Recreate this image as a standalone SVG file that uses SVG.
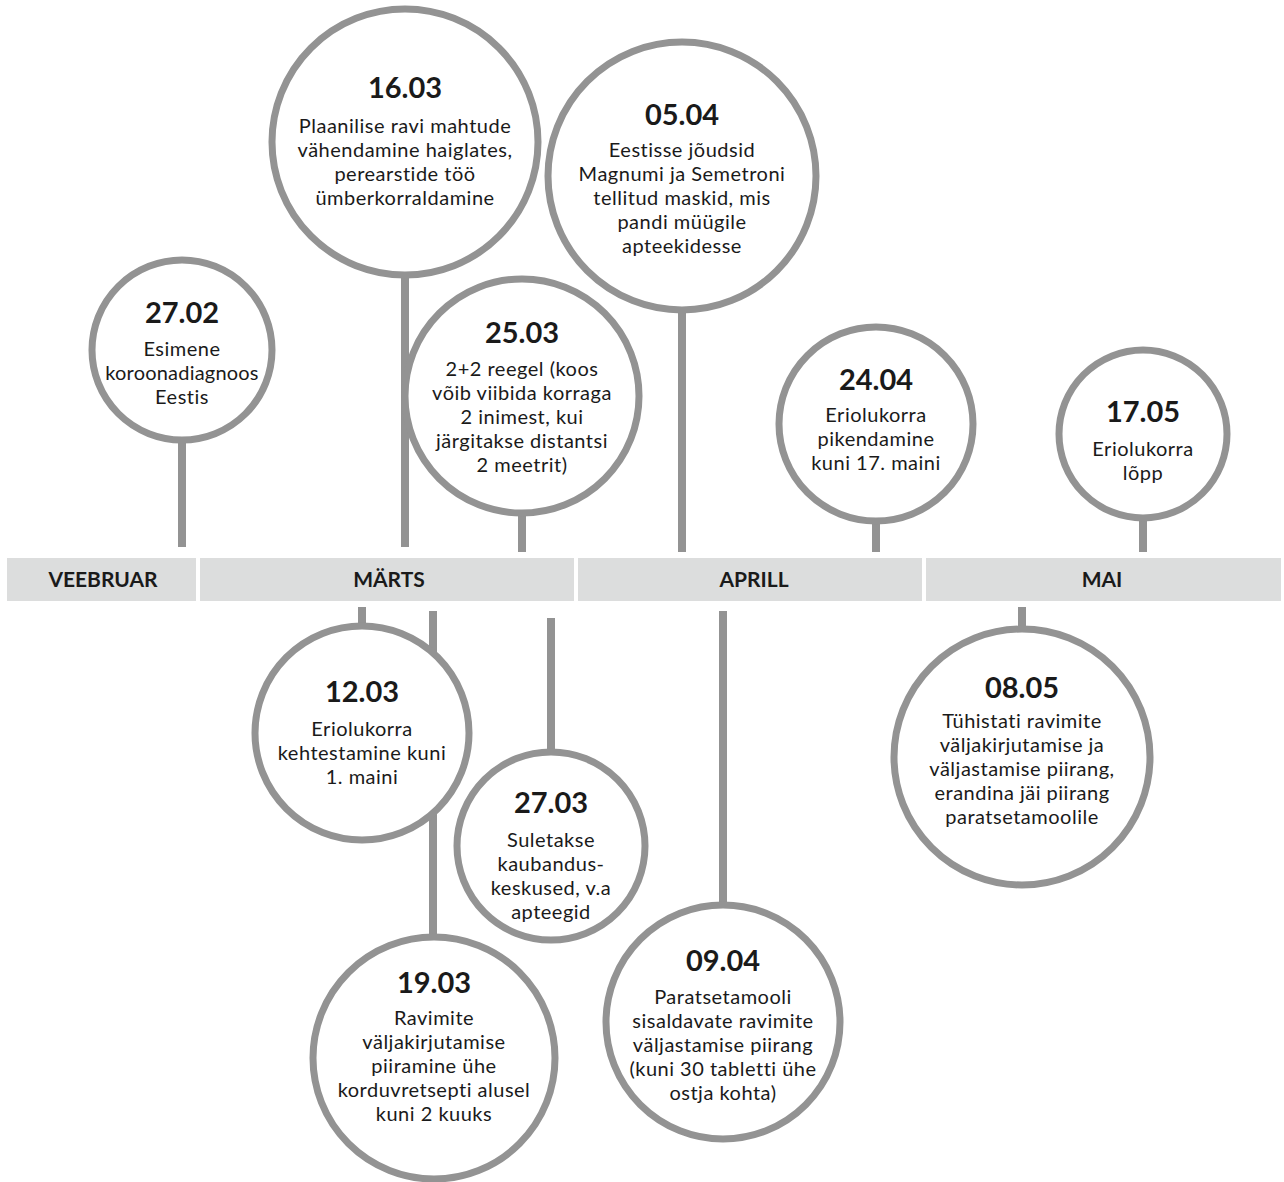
<svg xmlns="http://www.w3.org/2000/svg" width="1284" height="1182" viewBox="0 0 1284 1182">
<style>
.bar{fill:#dcdddd}
.month{font-family:Lato,"Liberation Sans",sans-serif;font-weight:700;font-size:21px;fill:#1a1a1a;text-anchor:middle}
.stem{stroke:#939393;stroke-width:8;fill:none}
.c{fill:#fff;stroke:#939393;stroke-width:7}
.d{font-family:Lato,"Liberation Sans",sans-serif;font-weight:700;font-size:29px;fill:#1a1a1a;text-anchor:middle}
.t{font-family:Lato,"Liberation Sans",sans-serif;font-size:20px;letter-spacing:0.5px;fill:#1a1a1a;text-anchor:middle}
</style>
<rect width="1284" height="1182" fill="#fff"/>
<g id="timeline">
<rect class="bar" x="7" y="558" width="189" height="43"/>
<rect class="bar" x="200" y="558" width="374" height="43"/>
<rect class="bar" x="578" y="558" width="344" height="43"/>
<rect class="bar" x="926" y="558" width="355" height="43"/>
<text class="month" x="103" y="587">VEEBRUAR</text>
<text class="month" x="389" y="587">MÄRTS</text>
<text class="month" x="754" y="587">APRILL</text>
<text class="month" x="1102" y="587">MAI</text>
</g>
<g id="connectors">
<line class="stem" x1="182" y1="420" x2="182" y2="547"/>
<line class="stem" x1="405" y1="270" x2="405" y2="547"/>
<line class="stem" x1="522" y1="505" x2="522" y2="552"/>
<line class="stem" x1="682" y1="300" x2="682" y2="552"/>
<line class="stem" x1="876" y1="515" x2="876" y2="552"/>
<line class="stem" x1="1143" y1="512" x2="1143" y2="552"/>
<line class="stem" x1="362" y1="607" x2="362" y2="632"/>
<line class="stem" x1="433" y1="611" x2="433" y2="942"/>
<line class="stem" x1="551" y1="618" x2="551" y2="756"/>
<line class="stem" x1="723" y1="611" x2="723" y2="912"/>
<line class="stem" x1="1022" y1="607" x2="1022" y2="632"/>
</g>
<g id="n2702">
<circle class="c" cx="182" cy="350" r="90"/>
<text class="d" x="182" y="323">27.02</text>
<text class="t" x="182" y="356">Esimene</text>
<text class="t" x="182" y="380" style="letter-spacing:0.2px">koroonadiagnoos</text>
<text class="t" x="182" y="404">Eestis</text>
</g>
<g id="n1603">
<circle class="c" cx="405" cy="142" r="133"/>
<text class="d" x="405" y="98">16.03</text>
<text class="t" x="405" y="133">Plaanilise ravi mahtude</text>
<text class="t" x="405" y="157">vähendamine haiglates,</text>
<text class="t" x="405" y="181">perearstide töö</text>
<text class="t" x="405" y="205">ümberkorraldamine</text>
</g>
<g id="n2503">
<circle class="c" cx="522" cy="396" r="117"/>
<text class="d" x="522" y="343">25.03</text>
<text class="t" x="522" y="376">2+2 reegel (koos</text>
<text class="t" x="522" y="400">võib viibida korraga</text>
<text class="t" x="522" y="424">2 inimest, kui</text>
<text class="t" x="522" y="448">järgitakse distantsi</text>
<text class="t" x="522" y="472">2 meetrit)</text>
</g>
<g id="n0504">
<circle class="c" cx="682" cy="176" r="134"/>
<text class="d" x="682" y="125">05.04</text>
<text class="t" x="682" y="157">Eestisse jõudsid</text>
<text class="t" x="682" y="181">Magnumi ja Semetroni</text>
<text class="t" x="682" y="205">tellitud maskid, mis</text>
<text class="t" x="682" y="229">pandi müügile</text>
<text class="t" x="682" y="253">apteekidesse</text>
</g>
<g id="n2404">
<circle class="c" cx="876" cy="424" r="97"/>
<text class="d" x="876" y="390">24.04</text>
<text class="t" x="876" y="422">Eriolukorra</text>
<text class="t" x="876" y="446">pikendamine</text>
<text class="t" x="876" y="470">kuni 17. maini</text>
</g>
<g id="n1705">
<circle class="c" cx="1143" cy="434" r="84"/>
<text class="d" x="1143" y="422">17.05</text>
<text class="t" x="1143" y="456">Eriolukorra</text>
<text class="t" x="1143" y="480">lõpp</text>
</g>
<g id="n1203">
<circle class="c" cx="362" cy="733" r="107"/>
<text class="d" x="362" y="702">12.03</text>
<text class="t" x="362" y="736">Eriolukorra</text>
<text class="t" x="362" y="760">kehtestamine kuni</text>
<text class="t" x="362" y="784">1. maini</text>
</g>
<g id="n2703">
<circle class="c" cx="551" cy="846" r="94"/>
<text class="d" x="551" y="813">27.03</text>
<text class="t" x="551" y="847">Suletakse</text>
<text class="t" x="551" y="871">kaubandus-</text>
<text class="t" x="551" y="895">keskused, v.a</text>
<text class="t" x="551" y="919">apteegid</text>
</g>
<g id="n1903">
<circle class="c" cx="434" cy="1058" r="121"/>
<text class="d" x="434" y="993">19.03</text>
<text class="t" x="434" y="1025">Ravimite</text>
<text class="t" x="434" y="1049">väljakirjutamise</text>
<text class="t" x="434" y="1073">piiramine ühe</text>
<text class="t" x="434" y="1097">korduvretsepti alusel</text>
<text class="t" x="434" y="1121">kuni 2 kuuks</text>
</g>
<g id="n0904">
<circle class="c" cx="723" cy="1022" r="117"/>
<text class="d" x="723" y="971">09.04</text>
<text class="t" x="723" y="1004">Paratsetamooli</text>
<text class="t" x="723" y="1028">sisaldavate ravimite</text>
<text class="t" x="723" y="1052">väljastamise piirang</text>
<text class="t" x="723" y="1076">(kuni 30 tabletti ühe</text>
<text class="t" x="723" y="1100">ostja kohta)</text>
</g>
<g id="n0805">
<circle class="c" cx="1022" cy="757" r="128"/>
<text class="d" x="1022" y="698">08.05</text>
<text class="t" x="1022" y="728">Tühistati ravimite</text>
<text class="t" x="1022" y="752">väljakirjutamise ja</text>
<text class="t" x="1022" y="776">väljastamise piirang,</text>
<text class="t" x="1022" y="800">erandina jäi piirang</text>
<text class="t" x="1022" y="824">paratsetamoolile</text>
</g>
</svg>
